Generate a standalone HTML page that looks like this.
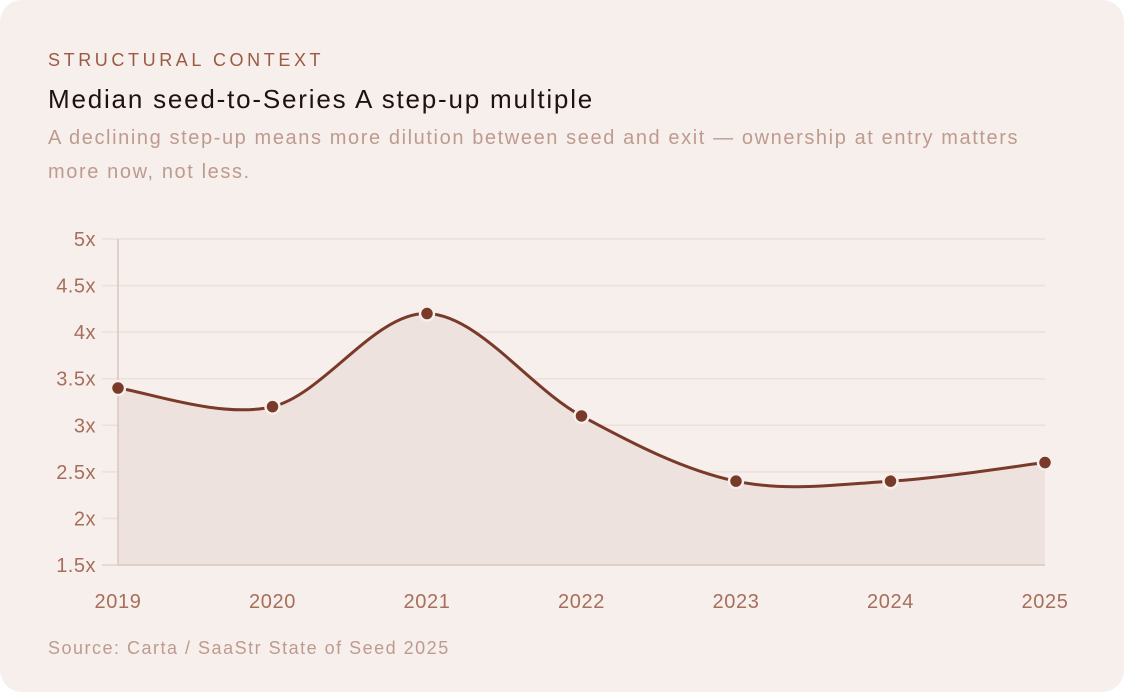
<!DOCTYPE html>
<html><head><meta charset="utf-8"><style>
html,body{margin:0;padding:0;background:#fff;width:1124px;height:692px;overflow:hidden}
.card{position:absolute;left:0;top:0;width:1124px;height:692px;background:#f7efec;border-radius:22px;font-family:"Liberation Sans",sans-serif}
.eyebrow{position:absolute;left:48px;top:50px;font-size:18px;letter-spacing:3.6px;color:#9a5a44}
.title{position:absolute;left:48px;top:84px;font-size:26px;letter-spacing:1.8px;color:#1e1210}
.sub{position:absolute;left:48px;top:121px;width:1000px;font-size:20px;letter-spacing:1.6px;line-height:34px;color:#bd9b8e}
.src{position:absolute;left:48px;top:638px;font-size:18px;letter-spacing:1.5px;color:#bd9b8e}
svg{position:absolute;left:0;top:0}
</style></head><body>
<div class="card">
<div class="eyebrow">STRUCTURAL CONTEXT</div>
<div class="title">Median seed-to-Series A step-up multiple</div>
<div class="sub">A declining step-up means more dilution between seed and exit — ownership at entry matters more now, not less.</div>
<svg id="chart" width="1124" height="692"></svg>
<div class="src">Source: Carta / SaaStr State of Seed 2025</div>
</div>
<script>
const years=["2019","2020","2021","2022","2023","2024","2025"];
const values=[3.4,3.2,4.2,3.1,2.4,2.4,2.6];
const yTicks=[1.5,2,2.5,3,3.5,4,4.5,5];
const yTickLabels=["1.5x","2x","2.5x","3x","3.5x","4x","4.5x","5x"];
const NS="http://www.w3.org/2000/svg";
const svg=document.getElementById('chart');
const x0=118,x1=1045,yTop=239,yBot=565,yMin=1.5,yMax=5;
const xs=i=>x0+(x1-x0)*i/(years.length-1);
const ys=v=>yBot-(v-yMin)/(yMax-yMin)*(yBot-yTop);
function mk(t,a){const e=document.createElementNS(NS,t);for(const k in a)e.setAttribute(k,a[k]);svg.appendChild(e);return e;}
yTicks.forEach((t,i)=>{
 const g=mk('line',{x1:102,x2:x1,y1:ys(t),y2:ys(t),stroke:i==0?'#e3d2cc':'#eddfda','stroke-width':1.5});
 
 
 const l=mk('text',{x:96,y:ys(t)+7,'text-anchor':'end','font-size':20,'letter-spacing':0.5,fill:'#a76e5c','font-family':'Liberation Sans, sans-serif'});
 l.textContent=yTickLabels[i];
 
 
});
years.forEach((y,i)=>{
 const l=mk('text',{x:xs(i),y:608,'text-anchor':'middle','font-size':20,'letter-spacing':0.6,fill:'#a76e5c','font-family':'Liberation Sans, sans-serif'});
 l.textContent=y;
 
 
});
const pts=values.map((v,i)=>[xs(i),ys(v)]);
let d=`M${pts[0][0]},${pts[0][1]}`;
for(let i=0;i<pts.length-1;i++){
 const p0=pts[Math.max(0,i-1)],p1=pts[i],p2=pts[i+1],p3=pts[Math.min(pts.length-1,i+2)];
 const c1=[p1[0]+(p2[0]-p0[0])/6,p1[1]+(p2[1]-p0[1])/6];
 const c2=[p2[0]-(p3[0]-p1[0])/6,p2[1]-(p3[1]-p1[1])/6];
 d+=` C${c1[0]},${c1[1]} ${c2[0]},${c2[1]} ${p2[0]},${p2[1]}`;
}
const area=mk('path',{d:d+` L${x1},${yBot} L${x0},${yBot} Z`,fill:'#ede2de'});


const ax=mk('line',{x1:x0,x2:x0,y1:yTop,y2:yBot,stroke:'#d9c6bf','stroke-width':1.5});


const bl=mk('line',{x1:x0,x2:x1,y1:yBot,y2:yBot,stroke:'#dcc9c2','stroke-width':1.5});


const line=mk('path',{d:d,fill:'none',stroke:'#7a3a2a','stroke-width':3});


pts.forEach((p,i)=>{
 const c=mk('circle',{cx:p[0],cy:p[1],r:7,fill:'#7a3a2a',stroke:'#f7efec','stroke-width':2.5});
 
 
});
</script>
</body></html>
